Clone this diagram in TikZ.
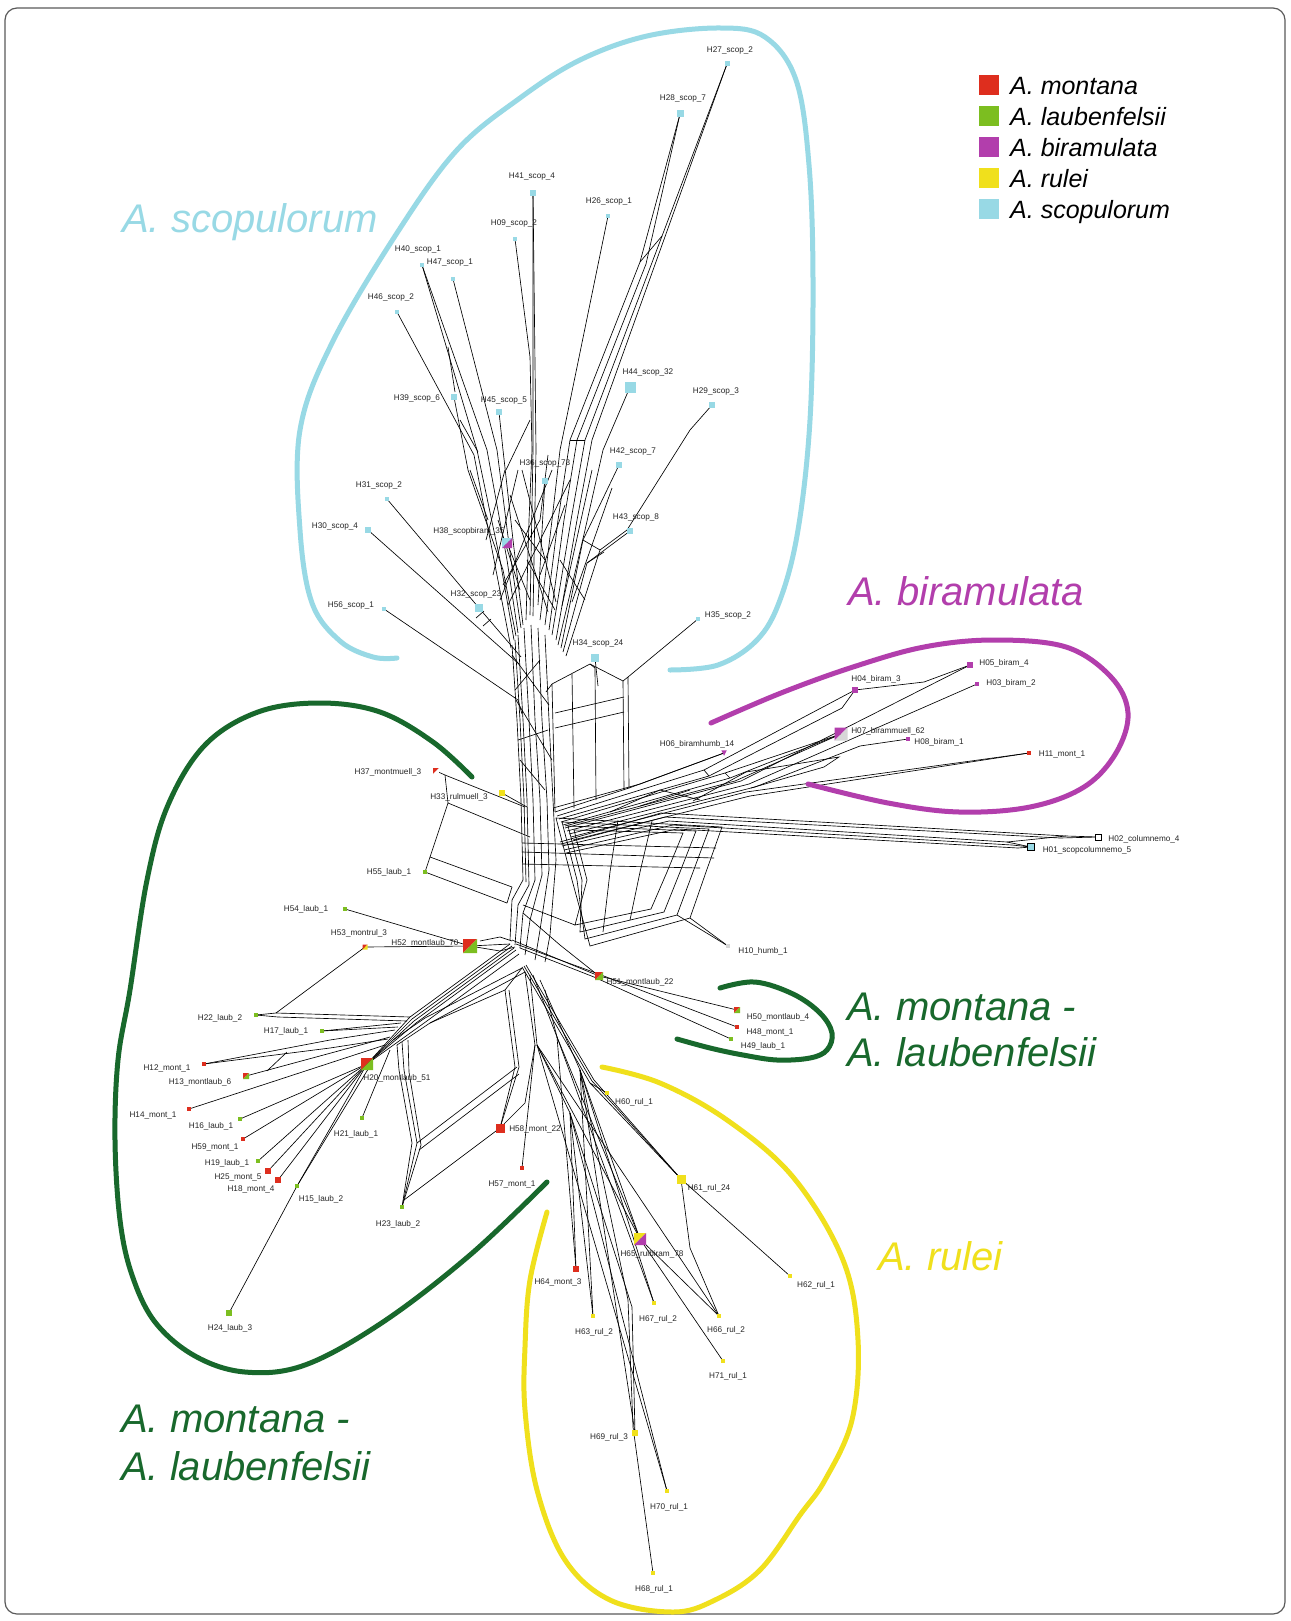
\documentclass[tikz,border=0pt]{standalone}
\usepackage{fontspec}
\setmainfont{Liberation Sans}
\usetikzlibrary{calc}
\pgfdeclarelayer{bg}
\pgfsetlayers{bg,main}
\definecolor{cRed}{RGB}{222,46,30}
\definecolor{cLGreen}{RGB}{124,190,32}
\definecolor{cMag}{RGB}{178,62,172}
\definecolor{cYel}{RGB}{240,224,28}
\definecolor{cCyan}{RGB}{152,217,229}
\definecolor{cDGreen}{RGB}{24,104,44}
\definecolor{cGray}{RGB}{215,215,215}
\definecolor{cBorder}{RGB}{90,90,90}
\tikzset{
 net/.style={black, line width=0.65pt},
 hull/.style={line width=5pt, line cap=round},
 lab/.style={font=\fontsize{8.2}{9}\selectfont, inner sep=0pt, text=black!85},
 big/.style={font=\fontsize{40}{44}\selectfont\itshape, inner sep=0pt, anchor=base west},
 leg/.style={font=\fontsize{25}{28}\selectfont\itshape, inner sep=0pt, anchor=base west},
 mk/.style={inner sep=0pt, outer sep=0pt, minimum size=#1},
}
% leaf: name, x, y, size, colour, label x, label y, text
\newcommand\leaf[8]{\node[mk=#4, fill=#5] (#1) at (#2,#3) {}; \node[lab] (#1l) at (#6,#7) {#8};}
% split leaf: name, x, y, size, colour1, colour2, label x, label y, text
\newcommand\sleaf[9]{\node[mk=#4] (#1) at (#2,#3) {};
 \fill[#5] (#1.north west) -- (#1.north east) -- (#1.south west) -- cycle;
 \fill[#6] (#1.north east) -- (#1.south east) -- (#1.south west) -- cycle;
 \node[lab] (#1l) at (#7,#8) {#9};}
\begin{document}
\begin{tikzpicture}[x=1pt,y=-1pt]
\useasboundingbox (0,0) rectangle (1290,1621);
\begin{pgfonlayer}{bg}
\fill[white] (0,0) rectangle (1290,1621);
\end{pgfonlayer}
\draw[cBorder, line width=1.2pt, rounded corners=12pt] (5,8) rectangle (1285,1614);

% ---------- leaves: scopulorum ----------
\leaf{h27}{727}{64}{5pt}{cCyan}{730}{50}{H27\_scop\_2}
\leaf{h28}{680}{114}{7pt}{cCyan}{683}{98}{H28\_scop\_7}
\leaf{h41}{533}{193}{6pt}{cCyan}{532}{177}{H41\_scop\_4}
\leaf{h26}{608}{216}{4.5pt}{cCyan}{609}{201}{H26\_scop\_1}
\leaf{h09}{515}{239}{4.5pt}{cCyan}{514}{223}{H09\_scop\_2}
\leaf{h40}{422}{265}{4.5pt}{cCyan}{418}{249}{H40\_scop\_1}
\leaf{h47}{453}{279}{4.5pt}{cCyan}{450}{263}{H47\_scop\_1}
\leaf{h46}{397}{312}{4.5pt}{cCyan}{391}{297}{H46\_scop\_2}
\leaf{h39}{454}{397}{6pt}{cCyan}{417}{398}{H39\_scop\_6}
\leaf{h45}{499}{412}{6pt}{cCyan}{504}{401}{H45\_scop\_5}
\leaf{h44}{630}{387}{11pt}{cCyan}{648}{372}{H44\_scop\_32}
\leaf{h29}{712}{405}{6pt}{cCyan}{716}{391}{H29\_scop\_3}
\leaf{h36}{545}{481}{6pt}{cCyan}{545}{463}{H36\_scop\_73}
\leaf{h42}{619}{465}{6pt}{cCyan}{633}{451}{H42\_scop\_7}
\leaf{h31}{387}{499}{4.5pt}{cCyan}{379}{485}{H31\_scop\_2}
\leaf{h30}{368}{530}{6pt}{cCyan}{335}{526}{H30\_scop\_4}
\sleaf{h38}{507}{543}{10pt}{cCyan}{cMag}{469}{531}{H38\_scopbiram\_35}
\leaf{h43}{630}{531}{6pt}{cCyan}{636}{517}{H43\_scop\_8}
\leaf{h32}{479}{608}{8pt}{cCyan}{476}{594}{H32\_scop\_23}
\leaf{h56}{384}{609}{4.5pt}{cCyan}{351}{605}{H56\_scop\_1}
\leaf{h35}{698}{619}{4.5pt}{cCyan}{728}{615}{H35\_scop\_2}
\leaf{h34}{595}{658}{8pt}{cCyan}{598}{643}{H34\_scop\_24}

% ---------- leaves: biramulata side ----------
\leaf{h05}{970}{665}{6pt}{cMag}{1004}{663}{H05\_biram\_4}
\leaf{h04}{855}{690}{6pt}{cMag}{876}{679}{H04\_biram\_3}
\leaf{h03}{977}{684}{4.5pt}{cMag}{1011}{683}{H03\_biram\_2}
\sleaf{h07}{841}{734}{13pt}{cMag}{cGray}{888}{731}{H07\_birammuell\_62}
\leaf{h08}{908}{739}{4.5pt}{cMag}{939}{742}{H08\_biram\_1}
\node[mk=5.5pt] (h06) at (724,753) {};
\fill[cMag] (h06.north west) -- (h06.north east) -- (h06.south) -- cycle;
\node[lab] (h06l) at (697,744) {H06\_biramhumb\_14};
\leaf{h11}{1029}{753}{4.5pt}{cRed}{1062}{754}{H11\_mont\_1}
\node[mk=6pt, fill=white, draw=black, line width=0.6pt] (h02) at (1098,837) {};
\node[lab] (h02l) at (1144,839) {H02\_columnemo\_4};
\node[mk=7pt, fill=cCyan, draw=black, line width=0.6pt] (h01) at (1031,847) {};
\node[lab] (h01l) at (1087,850) {H01\_scopcolumnemo\_5};
\leaf{h10}{728}{946}{4.5pt}{cGray}{763}{951}{H10\_humb\_1}

% ---------- leaves: montana / laubenfelsii ----------
\sleaf{h37}{436}{771}{6pt}{cRed}{white}{388}{772}{H37\_montmuell\_3}
\leaf{h33}{502}{793}{6pt}{cYel}{459}{797}{H33\_rulmuell\_3}
\leaf{h55}{425}{872}{4.5pt}{cLGreen}{389}{872}{H55\_laub\_1}
\leaf{h54}{345}{909}{4.5pt}{cLGreen}{306}{909}{H54\_laub\_1}
\sleaf{h53}{365}{947}{5pt}{cRed}{cYel}{359}{933}{H53\_montrul\_3}
\sleaf{h52}{470}{946}{14pt}{cRed}{cLGreen}{425}{943}{H52\_montlaub\_70}
\sleaf{h51}{599}{976}{8pt}{cRed}{cLGreen}{640}{982}{H51\_montlaub\_22}
\sleaf{h50}{737}{1010}{6pt}{cRed}{cLGreen}{778}{1017}{H50\_montlaub\_4}
\leaf{h48}{737}{1027}{4.5pt}{cRed}{770}{1032}{H48\_mont\_1}
\leaf{h49}{731}{1039}{4.5pt}{cLGreen}{763}{1046}{H49\_laub\_1}
\leaf{h22}{256}{1015}{4.5pt}{cLGreen}{220}{1018}{H22\_laub\_2}
\leaf{h17}{322}{1031}{4.5pt}{cLGreen}{286}{1031}{H17\_laub\_1}
\leaf{h12}{204}{1064}{4.5pt}{cRed}{167}{1068}{H12\_mont\_1}
\sleaf{h13}{246}{1076}{6pt}{cRed}{cLGreen}{200}{1082}{H13\_montlaub\_6}
\sleaf{h20}{367}{1064}{12pt}{cRed}{cLGreen}{397}{1078}{H20\_montlaub\_51}
\leaf{h14}{189}{1109}{4.5pt}{cRed}{153}{1115}{H14\_mont\_1}
\leaf{h16}{240}{1119}{4.5pt}{cLGreen}{211}{1126}{H16\_laub\_1}
\leaf{h21}{362}{1118}{4.5pt}{cLGreen}{356}{1134}{H21\_laub\_1}
\leaf{h59}{243}{1139}{4.5pt}{cRed}{215}{1147}{H59\_mont\_1}
\leaf{h19}{258}{1161}{4.5pt}{cLGreen}{227}{1163}{H19\_laub\_1}
\leaf{h25}{268}{1171}{6pt}{cRed}{238}{1177}{H25\_mont\_5}
\leaf{h18}{278}{1180}{6pt}{cRed}{251}{1189}{H18\_mont\_4}
\leaf{h15}{297}{1186}{4.5pt}{cLGreen}{321}{1199}{H15\_laub\_2}
\leaf{h23}{402}{1207}{4.5pt}{cLGreen}{398}{1224}{H23\_laub\_2}
\leaf{h24}{229}{1313}{6pt}{cLGreen}{230}{1328}{H24\_laub\_3}
\leaf{h58}{500}{1128}{9pt}{cRed}{535}{1129}{H58\_mont\_22}
\leaf{h57}{522}{1168}{4.5pt}{cRed}{512}{1184}{H57\_mont\_1}

% ---------- leaves: rulei ----------
\leaf{h60}{607}{1093}{4.5pt}{cYel}{634}{1102}{H60\_rul\_1}
\leaf{h61}{681}{1179}{9pt}{cYel}{709}{1188}{H61\_rul\_24}
\sleaf{h65}{640}{1239}{12pt}{cYel}{cMag}{652}{1254}{H65\_rulbiram\_78}
\leaf{h64}{576}{1269}{6pt}{cRed}{558}{1282}{H64\_mont\_3}
\leaf{h62}{790}{1276}{4.5pt}{cYel}{816}{1285}{H62\_rul\_1}
\leaf{h67}{654}{1303}{4.5pt}{cYel}{658}{1319}{H67\_rul\_2}
\leaf{h63}{593}{1316}{4.5pt}{cYel}{594}{1332}{H63\_rul\_2}
\leaf{h66}{719}{1316}{4.5pt}{cYel}{726}{1330}{H66\_rul\_2}
\leaf{h71}{723}{1361}{4.5pt}{cYel}{728}{1376}{H71\_rul\_1}
\leaf{h69}{635}{1433}{6pt}{cYel}{609}{1437}{H69\_rul\_3}
\leaf{h70}{667}{1491}{4.5pt}{cYel}{669}{1507}{H70\_rul\_1}
\leaf{h68}{653}{1573}{4.5pt}{cYel}{654}{1589}{H68\_rul\_1}

% ---------- network (behind markers) ----------
\begin{pgfonlayer}{bg}
% scopulorum fan, left
\draw[net] (514,640) -- (500,560) -- (477,450) -- (h40.center);
\draw[net] (518,633) -- (507,560) -- (487,450) -- (h40.center);
\draw[net] (521,628) -- (511,560) -- (497,450) -- (h47.center);
\draw[net] (511,648) -- (495,565) -- (474,455) -- (h46.center);
\draw[net] (516,636) -- (503,570) -- (468,470) -- (h39.center);
\draw[net] (523,625) -- (513,540) -- (503,450) -- (h45.center);
\draw[net] (526,620) -- (529,520) -- (532,450) -- (530,357) -- (h09.center);
\draw[net] (530,615) -- (533,450) -- (h41.center);
\draw[net] (533,616) -- (536,450) -- (h41.center);
\draw[net] (h38.center) -- (530,600);
\draw[net] (h36.center) -- (543,513) -- (538,605);
\draw[net] (500,600) -- (552,470);
\draw[net] (508,605) -- (570,480);
\draw[net] (493,575) -- (518,470);
\draw[net] (548,612) -- (510,495);
\draw[net] (556,602) -- (522,470);
\draw[net] (562,606) -- (592,470);
\draw[net] (572,602) -- (612,488);
\draw[net] (486,540) -- (505,470);
\draw[net] (470,470) -- (488,520);
\draw[net] (448,347) -- (455,392);
\draw[net] (503,585) -- (540,520) -- (548,455);
\draw[net] (520,590) -- (498,520);
\draw[net] (540,575) -- (565,505);
\draw[net] (527,560) -- (555,610);
\draw[net] (515,520) -- (545,560);
\draw[net] (560,560) -- (585,600);
\draw[net] (506,470) -- (530,420);
\draw[net] (460,420) -- (478,452);
% scopulorum fan, right
\draw[net] (540,620) -- (552,520) -- (560,450) -- (h26.center);
\draw[net] (545,625) -- (558,520) -- (570,440) -- (640,262) -- (h28.center);
\draw[net] (549,630) -- (564,520) -- (577,440) -- (646,264) -- (h28.center);
\draw[net] (552,635) -- (571,520) -- (585,440) -- (h27.center);
\draw[net] (556,640) -- (577,520) -- (592,440) -- (h27.center);
\draw[net] (640,262) -- (662,236);
\draw[net] (570,440) -- (585,440);
\draw[net] (558,645) -- (585,530) -- (603,450) -- (h44.center);
\draw[net] (561,648) -- (583,540) -- (h42.center);
\draw[net] (563,652) -- (587,563) -- (h43.center);
\draw[net] (566,656) -- (600,550) -- (627,530) -- (690,430) -- (h29.center);
\draw[net] (583,540) -- (600,550);
\draw[net] (587,563) -- (604,552);
% trunk
\draw[net] (512,645) -- (517,720) -- (521,800) -- (523,880);
\draw[net] (515,640) -- (520,720) -- (524,800) -- (526,882);
\draw[net] (518,635) -- (523,720) -- (527,800) -- (529,885);
\draw[net] (524,628) -- (529,720) -- (533,800) -- (535,880);
\draw[net] (531,625) -- (535,720) -- (540,800) -- (542,875);
\draw[net] (538,628) -- (542,720) -- (547,800) -- (549,870);
\draw[net] (545,635) -- (549,720) -- (553,800) -- (556,860);
\draw[net] (512,655) -- (549,705);
\draw[net] (516,700) -- (552,760);
\draw[net] (520,760) -- (545,790);
\draw[net] (515,690) -- (540,660);
\draw[net] (518,740) -- (548,730);
% H31, H30, H56
\draw[net] (h31.center) -- (h32.center) -- (521,657);
\draw[net] (h30.center) -- (519,664);
\draw[net] (476,618) -- (484,611);
\draw[net] (483,626) -- (491,619);
\draw[net] (h56.center) -- (518,700) -- (522,714);
% block under H34 / H35
\draw[net] (546,692) -- (552,684) -- (590,664) -- (623,681) -- (628,677) -- (h35.center);
\draw[net] (552,684) -- (555,812);
\draw[net] (572,674) -- (574,808);
\draw[net] (590,664) -- (595,668) -- (596,800);
\draw[net] (623,681) -- (624,790);
\draw[net] (628,677) -- (629,788);
\draw[net] (h34.center) -- (598,686);
\draw[net] (555,713) -- (624,697);
\draw[net] (555,728) -- (624,712);
% biramulata bundle
\draw[net] (555,812) -- (629,788) -- (h06.center);
\draw[net] (553,808) -- (640,784) -- (h06.center);
\draw[net] (557,816) -- (704,770) -- (h04.center);
\draw[net] (559,819) -- (709,776) -- (842,708) -- (h04.center);
\draw[net] (561,822) -- (725,773) -- (h07.center);
\draw[net] (563,825) -- (730,778) -- (h07.center);
\draw[net] (565,826) -- (735,781) -- (h07.center);
\draw[net] (h04.center) -- (924,682) -- (h05.center);
\draw[net] (565,828) -- (741,781) -- (h05.center);
\draw[net] (567,831) -- (749,784) -- (h03.center);
\draw[net] (569,834) -- (755,787) -- (860,746) -- (h08.center);
\draw[net] (571,837) -- (746,792) -- (h11.center);
\draw[net] (573,840) -- (750,796) -- (h11.center);
\draw[net] (693,801) -- (746,772) -- (839,757) -- (824,767) -- (751,788);
\draw[net] (704,770) -- (709,776);
\draw[net] (725,773) -- (730,778);
\draw[net] (610,812) -- (660,790) -- (700,800);
\draw[net] (640,806) -- (690,790);
% long bundle to H02 / H01
\draw[net] (560,842) -- (661,813) -- (1066,836) -- (h02.center);
\draw[net] (561,844) -- (665,817) -- (1060,838) -- (h02.center);
\draw[net] (562,846) -- (669,821) -- (1007,842) -- (h01.center);
\draw[net] (564,850) -- (673,825) -- (1012,845) -- (h01.center);
\draw[net] (566,853) -- (677,829) -- (1018,848) -- (h01.center);
\draw[net] (1007,842) -- (1066,836);
% central lattice: nested rings
\foreach \k in {0,1,2,3} {
 \draw[net] ($(556,818)+(6*\k,4*\k)$) -- ($(722,827)+(-13*\k,2*\k)$) -- ($(706,872)+(-13*\k,0)$)
   -- ($(690,918)+(-13*\k,-3*\k)$) -- ($(590,946)+(-5*\k,-7*\k)$) -- ($(572,880)+(5*\k,0)$) -- cycle;
}
\draw[net] (690,918) -- (h10.center);
\draw[net] (677,915) -- (h10.center);
\draw[net] (522,843) -- (716,848);
\draw[net] (522,852) -- (714,858);
\draw[net] (522,864) -- (700,868);
\draw[net] (652,821) -- (640,872) -- (630,920);
\draw[net] (618,820) -- (610,872) -- (603,932);
\draw[net] (523,905) -- (575,925);
% left block (H37, H33, H55)
\draw[net] (h37.center) -- (445,775) -- (525,807);
\draw[net] (445,775) -- (448,803) -- (530,837);
\draw[net] (448,803) -- (430,857) -- (512,887);
\draw[net] (h55.center) -- (430,857);
\draw[net] (h55.center) -- (507,903);
\draw[net] (h33.center) -- (527,807);
\draw[net] (512,887) -- (507,903);
% lower trunk
\draw[net] (523,880) -- (512,900) -- (510,940);
\draw[net] (529,885) -- (518,905) -- (515,945);
\draw[net] (535,880) -- (523,913) -- (520,948);
\draw[net] (542,875) -- (530,920) -- (525,955);
\draw[net] (549,870) -- (540,930) -- (535,960);
\draw[net] (556,860) -- (550,935) -- (545,962);
% H54, H52, H53
\draw[net] (h54.center) -- (h52.center) -- (510,944);
\draw[net] (h53.center) -- (h52.center);
\draw[net] (h52.center) -- (500,951) -- (515,947);
\draw[net] (480,941) -- (500,937) -- (512,941);
% H51 group
\draw[net] (512,940) -- (h51.center) -- (h50.center);
\draw[net] (516,944) -- (596,973) -- (h48.center);
\draw[net] (520,948) -- (594,977) -- (h49.center);
\draw[net] (523,913) -- (560,945) -- (h51.center);
% bundle to H20
\draw[net] (510,944) -- (410,1017) -- (h20.center);
\draw[net] (512,946) -- (412,1019) -- (h20.center);
\draw[net] (514,948) -- (414,1021) -- (h20.center);
\draw[net] (516,950) -- (416,1023) -- (h20.center);
\draw[net] (519,954) -- (420,1026) -- (h20.center);
\draw[net] (522,968) -- (425,1018) -- (393,1040);
\draw[net] (525,972) -- (430,1023) -- (397,1045);
\draw[net] (h22.center) -- (276,1013) -- (410,1017);
\draw[net] (h22.center) -- (278,1017) -- (407,1021);
\draw[net] (276,1013) -- (h53.center);
\draw[net] (h17.center) -- (401,1023);
\draw[net] (h17.center) -- (398,1027);
\draw[net] (h12.center) -- (330,1040) -- (395,1030);
\draw[net] (h12.center) -- (330,1048) -- (388,1039);
\draw[net] (287,1052) -- (267,1071);
\draw[net] (h13.center) -- (390,1037);
\draw[net] (h14.center) -- (385,1045);
\draw[net] (h16.center) -- (h20.center);
\draw[net] (h59.center) -- (h20.center);
\draw[net] (h19.center) -- (h20.center);
\draw[net] (h25.center) -- (h20.center);
\draw[net] (h18.center) -- (h20.center);
\draw[net] (h24.center) -- (h15.center) -- (h20.center);
\draw[net] (h15.center) -- (370,1066);
\draw[net] (h21.center) -- (390,1050);
% lattice to H23, H58, H57
\draw[net] (h23.center) -- (412,1143) -- (399,1070) -- (397,1045);
\draw[net] (h23.center) -- (417,1143) -- (404,1070) -- (402,1042);
\draw[net] (h23.center) -- (421,1145) -- (409,1072) -- (408,1040);
\draw[net] (404,1200) -- (h58.center);
\draw[net] (417,1143) -- (517,1067);
\draw[net] (419,1150) -- (519,1074);
\draw[net] (430,1023) -- (505,990);
\draw[net] (505,990) -- (515,1067) -- (h58.center);
\draw[net] (509,990) -- (519,1067) -- (h58.center);
\draw[net] (522,968) -- (505,990);
\draw[net] (535,1045) -- (h57.center);
\draw[net] (535,1045) -- (525,1103) -- (h58.center);
\draw[net] (525,972) -- (535,1045);
% rulei
\draw[net] (522,967) -- (590,1083) -- (h61.center);
\draw[net] (524,966) -- (592,1081) -- (h61.center);
\draw[net] (526,965) -- (594,1080) -- (h61.center);
\draw[net] (590,1083) -- (h60.center);
\draw[net] (h61.center) -- (h62.center);
\draw[net] (h61.center) -- (690,1248) -- (h66.center);
\draw[net] (530,975) -- (537,1045) -- (570,1113) -- (h64.center);
\draw[net] (533,975) -- (557,1037) -- (h65.center);
\draw[net] (540,980) -- (580,1070) -- (h65.center);
\draw[net] (537,1045) -- (h65.center);
\draw[net] (557,1037) -- (h67.center);
\draw[net] (570,1113) -- (h63.center);
\draw[net] (580,1070) -- (h63.center);
\draw[net] (h65.center) -- (h66.center);
\draw[net] (h65.center) -- (h71.center);
\draw[net] (537,1045) -- (h66.center);
\draw[net] (580,1070) -- (h67.center);
\draw[net] (570,1113) -- (632,1307) -- (h69.center);
\draw[net] (570,1113) -- (h70.center);
\draw[net] (537,1045) -- (h70.center);
\draw[net] (580,1070) -- (628,1300) -- (633,1427) -- (h68.center);
\draw[net] (580,1070) -- (h69.center);
\draw[net] (557,1037) -- (h64.center);
\draw[net] (545,990) -- (557,1037);
\end{pgfonlayer}

% ---------- hulls ----------
\draw[hull, cCyan] plot[smooth, tension=0.6] coordinates {(397,658) (373,657) (340,641) (312,603) (300,530) (300,430) (332,343) (397,233) (457,150) (520,98) (580,60) (647,36) (720,28) (765,37) (796,80) (809,165) (813,280) (810,420) (798,530) (780,600) (757,640) (718,665) (670,670)};
\draw[hull, cMag] plot[smooth, tension=0.6] coordinates {(711,723) (781,693) (853,667) (924,647) (994,640) (1066,647) (1111,677) (1128,713) (1116,753) (1084,787) (1030,807) (959,812) (888,803) (808,784)};
\draw[hull, cDGreen] plot[smooth, tension=0.6] coordinates {(472,777) (433,742) (380,712) (320,703) (258,712) (205,745) (168,805) (147,880) (130,990) (118,1060) (115,1140) (120,1220) (132,1275) (155,1322) (195,1356) (245,1372) (305,1365) (383,1322) (470,1255) (547,1182)};
\draw[hull, cDGreen] plot[smooth, tension=0.6] coordinates {(720,988) (755,982) (793,994) (820,1013) (832,1033) (827,1050) (810,1058) (777,1060) (743,1055) (710,1048) (677,1039)};
\draw[hull, cYel] plot[smooth, tension=0.6] coordinates {(602,1067) (660,1083) (727,1120) (793,1177) (843,1260) (858,1340) (852,1420) (825,1480) (800,1515) (760,1570) (715,1600) (673,1612) (610,1600) (565,1560) (537,1490) (525,1410) (525,1347) (530,1280) (547,1212)};

% ---------- group names ----------
\node[big, text=cCyan] (tscop) at (122,233) {A. scopulorum};
\node[big, text=cMag] (tbiram) at (848,605) {A. biramulata};
\node[big, text=cDGreen] (tml1) at (847,1020) {A. montana -};
\node[big, text=cDGreen] (tml2) at (847,1066) {A. laubenfelsii};
\node[big, text=cDGreen] (tml3) at (121,1432) {A. montana -};
\node[big, text=cDGreen] (tml4) at (121,1480) {A. laubenfelsii};
\node[big, text=cYel] (trul) at (878,1270) {A. rulei};

% ---------- legend ----------
\node[mk=20pt, fill=cRed] (lg1) at (988.5,85) {};
\node[mk=20pt, fill=cLGreen] (lg2) at (988.5,116) {};
\node[mk=20pt, fill=cMag] (lg3) at (988.5,147) {};
\node[mk=20pt, fill=cYel] (lg4) at (988.5,178) {};
\node[mk=20pt, fill=cCyan] (lg5) at (988.5,209) {};
\node[leg] (lt1) at (1010,95) {A. montana};
\node[leg] (lt2) at (1010,126) {A. laubenfelsii};
\node[leg] (lt3) at (1010,157) {A. biramulata};
\node[leg] (lt4) at (1010,188) {A. rulei};
\node[leg] (lt5) at (1010,219) {A. scopulorum};
\end{tikzpicture}
\end{document}
